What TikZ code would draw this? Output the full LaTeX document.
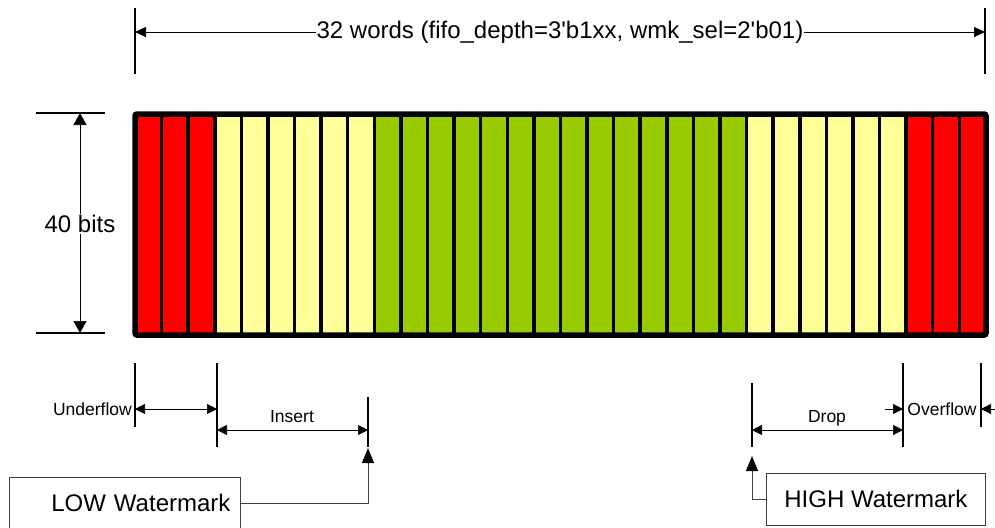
\documentclass[tikz,border=0pt]{standalone}
\usepackage{fontspec}
\setmainfont{Liberation Sans}
\usetikzlibrary{arrows.meta}

\definecolor{fred}{HTML}{FF0000}
\definecolor{fyel}{HTML}{FFFF99}
\definecolor{fgrn}{HTML}{99CC00}

\tikzset{
    bigtxt/.style={font=\fontsize{24}{28}\selectfont},
    smalltxt/.style={font=\fontsize{17.5}{20}\selectfont, inner sep=1pt},
    tick/.style={line width=1.3pt},
    dimline/.style={line width=0.7pt, -{Triangle[length=11pt,width=10pt]}},
    smalldim/.style={line width=0.7pt, {Triangle[length=10pt,width=10pt]}-{Triangle[length=10pt,width=10pt]}},
    onearr/.style={line width=0.7pt, -{Triangle[length=10pt,width=10pt]}},
    wmbox/.style={draw=black!75, line width=0.8pt, minimum height=52pt, bigtxt},
    wmline/.style={draw=black!75, line width=0.8pt, -{Triangle[length=15pt,width=12pt,color=black]}},
    sepline/.style={line width=3.5pt}
}

\begin{document}
\begin{tikzpicture}[x=1pt, y=-1pt]
    \useasboundingbox (0,0) rectangle (995,527);

    % FIFO words
    \foreach \i in {0,1,2,29,30,31}
        \fill[fred] ({135+\i*26.59},114) rectangle ++(26.59,221);
    \foreach \i in {3,...,8}
        \fill[fyel] ({135+\i*26.59},114) rectangle ++(26.59,221);
    \foreach \i in {23,...,28}
        \fill[fyel] ({135+\i*26.59},114) rectangle ++(26.59,221);
    \foreach \i in {9,...,22}
        \fill[fgrn] ({135+\i*26.59},114) rectangle ++(26.59,221);
    \foreach \i in {1,...,31}
        \draw[sepline] ({135+\i*26.59},114) -- ++(0,221);
    \draw[line width=5.5pt, rounded corners=2pt] (135,114) rectangle (986,335);

    % depth
    \draw[tick] (135,8) -- (135,74);
    \draw[tick] (985,8) -- (985,74);
    \coordinate (wl) at (135,32);
    \coordinate (wr) at (985,32);
    \node[bigtxt, fill=white, inner sep=0pt] (words) at (560,32)
        {32 words (fifo\_depth=3\textquotesingle b1xx, wmk\_sel=2\textquotesingle b01)};
    \draw[dimline] (words) -- (wl);
    \draw[dimline] (words) -- (wr);

    % width
    \draw[tick] (36,113) -- (105,113);
    \draw[tick] (36,333) -- (105,333);
    \coordinate (bt) at (80,113);
    \coordinate (bb) at (80,333);
    \node[bigtxt, fill=white, inner sep=1pt] (bits) at (80,224) {40 bits};
    \draw[line width=0.7pt, -{Triangle[length=12pt,width=13pt]}] (bits) -- (bt);
    \draw[line width=0.7pt, -{Triangle[length=12pt,width=13pt]}] (bits) -- (bb);

    % underflow / insert
    \draw[tick] (135,363) -- (135,427);
    \draw[tick] (217,363) -- (217,447);
    \draw[tick] (368,397) -- (368,447);
    \coordinate (ufl) at (135,409);
    \coordinate (ufr) at (217,409);
    \coordinate (insl) at (217,430);
    \coordinate (insr) at (368,430);
    \draw[smalldim] (ufl) -- (ufr);
    \draw[smalldim] (insl) -- (insr);
    \node[smalltxt, anchor=base east] (uflow) at (133,415) {Underflow};
    \node[smalltxt, anchor=base] (ins) at (292,422) {Insert};

    % drop / overflow
    \draw[tick] (752,383) -- (752,447);
    \draw[tick] (903,363) -- (903,447);
    \draw[tick] (981,363) -- (981,427);
    \coordinate (drl) at (752,430);
    \coordinate (drr) at (903,430);
    \draw[smalldim] (drl) -- (drr);
    \node[smalltxt, anchor=base] (drop) at (827,422) {Drop};
    \coordinate (ofa) at (885,409);
    \coordinate (ofl) at (903,409);
    \coordinate (ofb) at (995,409);
    \coordinate (ofr) at (981,409);
    \draw[onearr] (ofa) -- (ofl);
    \draw[onearr] (ofb) -- (ofr);
    \node[smalltxt, anchor=base] (oflow) at (942,415) {Overflow};

    % watermarks
    \node[wmbox, text width=211pt, align=right, inner xsep=10pt, anchor=north west]
        (low) at (9,477) {LOW Watermark};
    \node[wmbox, minimum width=219pt, anchor=north west]
        (high) at (766,473) {HIGH Watermark};
    \coordinate (lowpt) at (368,448);
    \coordinate (highpt) at (752,456);
    \draw[wmline] (low.east) -| (lowpt);
    \draw[wmline] (high.west) -| (highpt);
\end{tikzpicture}
\end{document}
